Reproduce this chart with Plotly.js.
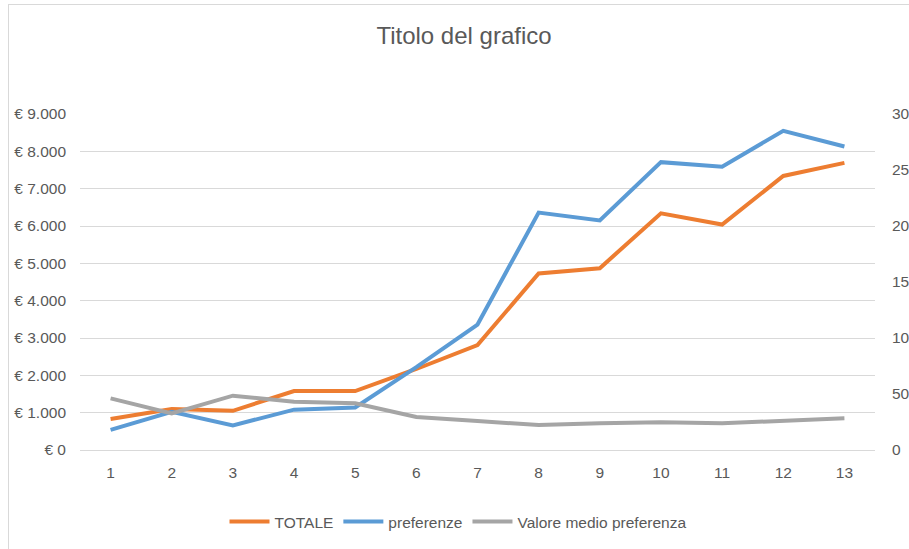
<!DOCTYPE html>
<html>
<head>
<meta charset="utf-8">
<script src="https://cdn.plot.ly/plotly-3.0.1.min.js"></script>
<style>
  html, body { margin: 0; padding: 0; background: #ffffff; overflow: hidden; }
  #chart { width: 909px; height: 549px; position: absolute; left: 0; top: 0; }
  #frame { position: absolute; left: 8px; top: 4px; width: 1000px; height: 1000px;
           border-left: 1px solid #d9d9d9; border-top: 1px solid #d9d9d9; pointer-events: none; }
</style>
</head>
<body>
<div id="chart"></div>
<div id="frame"></div>
<script>
const categories = [1, 2, 3, 4, 5, 6, 7, 8, 9, 10, 11, 12, 13];
const totale = [830, 1100, 1050, 1580, 1580, 2170, 2810, 4730, 4870, 6340, 6040, 7340, 7690];
const preferenze = [18, 34, 22, 36, 38, 74, 112, 212, 205, 257, 253, 285, 271];
const valoreMedio = [46.1, 32.7, 48.5, 43.1, 41.7, 29.5, 25.9, 22.3, 23.8, 24.7, 23.8, 26.2, 28.3];
const seriesNames = ["TOTALE", "preferenze", "Valore medio preferenza"];
const chartTitle = "Titolo del grafico";

const FONT = "Liberation Sans, Arial, sans-serif";
const TXT = "#595959";

const traces = [
  { x: categories, y: totale, name: seriesNames[0], type: "scatter", mode: "lines",
    line: { color: "#ED7D31", width: 4 }, yaxis: "y" },
  { x: categories, y: preferenze, name: seriesNames[1], type: "scatter", mode: "lines",
    line: { color: "#5B9BD5", width: 4 }, yaxis: "y2" },
  { x: categories, y: valoreMedio, name: seriesNames[2], type: "scatter", mode: "lines",
    line: { color: "#A5A5A5", width: 4 }, yaxis: "y2" }
];

const layout = {
  width: 909, height: 549,
  paper_bgcolor: "#ffffff", plot_bgcolor: "#ffffff",
  separators: ",.",
  margin: { l: 80, r: 34, t: 114, b: 99 },
  font: { family: FONT, size: 15.5, color: TXT },
  title: { text: chartTitle, font: { family: FONT, size: 24, color: TXT },
           xref: "container", x: 464 / 909, xanchor: "center",
           yref: "container", y: 1 - 36 / 549, yanchor: "middle" },
  xaxis: { range: [0.5, 13.5], tickmode: "array", tickvals: categories,
           showgrid: false, zeroline: false, showline: false, ticks: "",
           ticklabelstandoff: 11, tickfont: { size: 15.5, color: TXT } },
  yaxis: { range: [0, 9000], dtick: 1000, tickprefix: "€ ", tickformat: ",d",
           showgrid: true, gridcolor: "#d9d9d9", gridwidth: 1,
           zeroline: true, zerolinecolor: "#d9d9d9", zerolinewidth: 1,
           showline: false, ticks: "", ticklabelstandoff: 13,
           tickfont: { size: 15.5, color: TXT } },
  yaxis2: { range: [0, 300], dtick: 50, overlaying: "y", side: "right",
            showgrid: false, zeroline: false, showline: false, ticks: "",
            ticklabelstandoff: 16, tickfont: { size: 15.5, color: TXT } },
  showlegend: true,
  legend: { orientation: "h", xref: "container", x: 458 / 909, xanchor: "center",
            yref: "container", y: 1 - 522 / 549, yanchor: "middle",
            font: { size: 15.5, color: TXT }, traceorder: "normal",
            itemwidth: 40, bgcolor: "rgba(0,0,0,0)" }
};

Plotly.newPlot("chart", traces, layout, { displayModeBar: false, staticPlot: true });
</script>
</body>
</html>
